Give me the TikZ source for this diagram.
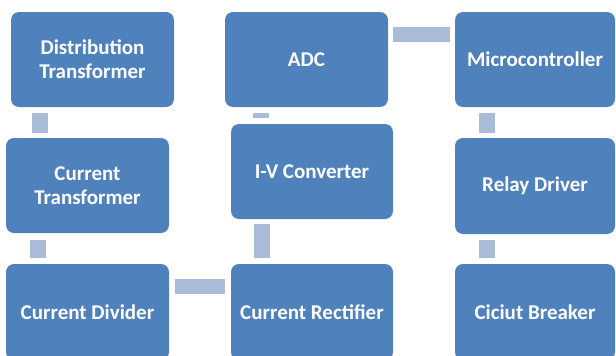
\documentclass[tikz,border=0pt]{standalone}
\usepackage{fontspec}
\setmainfont{Carlito}
\definecolor{boxblue}{RGB}{79,129,189}
\definecolor{connblue}{RGB}{171,188,216}
\begin{document}
\begin{tikzpicture}[x=1pt,y=-1pt,
  blk/.style={draw=none, fill=boxblue, rounded corners=8pt, text=white,
    font=\fontsize{21}{24}\selectfont\bfseries, align=center,
    inner sep=0pt, anchor=center},
  conn/.style={draw=connblue, line width=16pt},
  connh/.style={draw=connblue, line width=15pt}]
\useasboundingbox (0,0) rectangle (616,356);
\clip (0,0) rectangle (616,356);
\node[blk, minimum width=163pt, minimum height=95pt] (dt) at (92.5,59.5) {Distribution\\Transformer};
\node[blk, minimum width=163pt, minimum height=95pt] (ct) at (87.5,185.5) {Current\\Transformer};
\node[blk, minimum width=163pt, minimum height=96pt] (cd) at (87.5,312) {Current Divider};
\node[blk, minimum width=163pt, minimum height=95pt] (adc) at (306.5,59.5) {ADC};
\node[blk, minimum width=162pt, minimum height=95pt] (iv) at (312,171.5) {I-V Converter};
\node[blk, minimum width=162pt, minimum height=96pt] (cr) at (312,312) {Current Rectifier};
\node[blk, minimum width=160pt, minimum height=95pt] (mc) at (535,59.5) {Microcontroller};
\node[blk, minimum width=160pt, minimum height=96pt] (rd) at (535,186) {Relay Driver};
\node[blk, minimum width=160pt, minimum height=96pt] (cb) at (535,312) {Ciciut Breaker};
\coordinate (xa) at (40,0);
\coordinate (xb) at (37.5,0);
\coordinate (xc) at (261,0);
\coordinate (xd) at (262,0);
\coordinate (xe) at (487,0);
\coordinate (ya) at (0,286.5);
\coordinate (yb) at (0,34.5);
\draw[conn, shorten <=6pt, shorten >=5pt] (dt.south -| xa) -- (ct.north -| xa);
\draw[conn, shorten <=7pt, shorten >=6pt] (ct.south -| xb) -- (cd.north -| xb);
\draw[connh, shorten <=6pt, shorten >=6pt] (cd.east |- ya) -- (cr.west |- ya);
\draw[conn, shorten <=5pt, shorten >=6pt] (iv.south -| xd) -- (cr.north -| xd);
\draw[conn, shorten <=6pt, shorten >=6pt] (adc.south -| xc) -- (iv.north -| xc);
\draw[connh, shorten <=5pt, shorten >=5pt] (adc.east |- yb) -- (mc.west |- yb);
\draw[conn, shorten <=6pt, shorten >=5pt] (mc.south -| xe) -- (rd.north -| xe);
\draw[conn, shorten <=6pt, shorten >=6pt] (rd.south -| xe) -- (cb.north -| xe);
\end{tikzpicture}
\end{document}
